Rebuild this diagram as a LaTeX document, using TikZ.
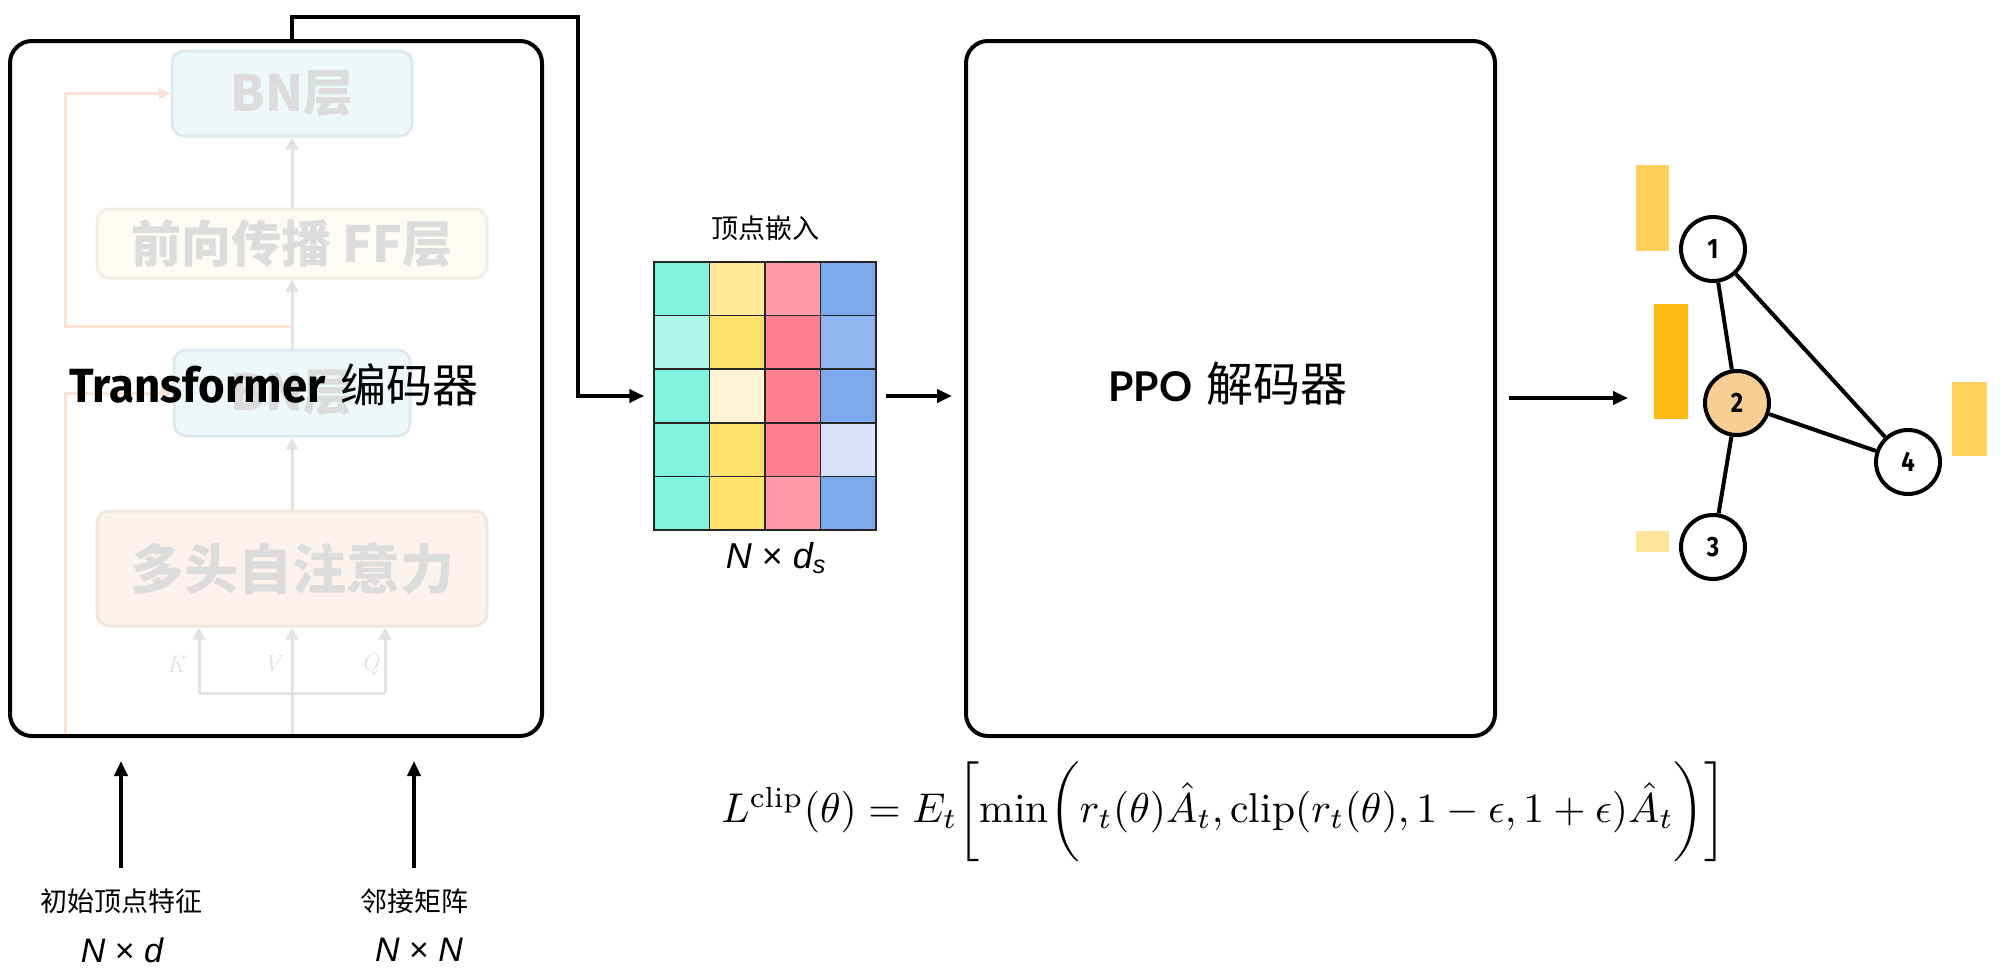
\documentclass[tikz,border=0pt]{standalone}
\usepackage{fontspec}
\usepackage{amsmath}
\usepackage{graphicx}
\usetikzlibrary{arrows.meta,calc}
\newfontfamily\song{Noto Sans CJK SC}
\newfontfamily\hei{Noto Sans CJK SC}
\newfontfamily\cond{Fira Sans}[FakeStretch=0.95]
\newfontfamily\gnum{Fira Sans}[FakeStretch=0.85]
\newfontfamily\asans{Liberation Sans}
\newfontfamily\lato{Lato}
\definecolor{bnfill}{HTML}{EEF7FA}
\definecolor{bnline}{HTML}{DDEAEF}
\definecolor{fffill}{HTML}{FEFBF4}
\definecolor{ffline}{HTML}{F2EEE6}
\definecolor{mhfill}{HTML}{FCF2ED}
\definecolor{mhline}{HTML}{F3E6DF}
\definecolor{ftext}{HTML}{DCDCDC}
\definecolor{fgray}{HTML}{E2E2E2}
\definecolor{forange}{HTML}{FBE4D5}
\definecolor{T1}{HTML}{80F3DE}
\definecolor{T2}{HTML}{AEF6E8}
\definecolor{Y1}{HTML}{FFE898}
\definecolor{Y2}{HTML}{FFE16C}
\definecolor{Y3}{HTML}{FFF4D6}
\definecolor{R1}{HTML}{FF9BA6}
\definecolor{R2}{HTML}{FF808F}
\definecolor{B1}{HTML}{7CA8EC}
\definecolor{B2}{HTML}{8FB6EF}
\definecolor{B3}{HTML}{D7E4F8}
\definecolor{bar1}{HTML}{FFD15C}
\definecolor{bar2}{HTML}{FDBA13}
\definecolor{bar3}{HTML}{FFE49C}
\definecolor{bar4}{HTML}{FFD35E}
\definecolor{hot}{HTML}{F9CE95}
\begin{document}
\begin{tikzpicture}[x=1pt,y=-1pt,
  arr/.style={line width=4pt,-{Triangle[length=15pt,width=13pt]}},
  bigbox/.style={draw,line width=4pt,rounded corners=22pt,inner sep=0pt},
  fbox/.style={rounded corners=12pt,line width=3pt,inner sep=0pt,
     font=\hei\bfseries\fontsize{50}{54}\selectfont,text=ftext},
  fline/.style={draw=fgray,line width=3pt},
  farr/.style={fline,-{Triangle[length=12pt,width=12pt]}},
  oarr/.style={draw=forange,line width=3pt,-{Triangle[length=12pt,width=12pt]}},
  gnode/.style={circle,draw,line width=4pt,minimum size=64pt,inner sep=0pt,fill=white,
     font=\gnum\bfseries\fontsize{28}{28}\selectfont},
  cjklab/.style={font=\song\fontsize{27}{30}\selectfont,inner sep=0pt},
  dimlab/.style={font=\asans\itshape\fontsize{34}{38}\selectfont,inner sep=0pt},
  edge/.style={line width=4pt}]
\useasboundingbox (0,0) rectangle (2000,972);
\fill[white] (0,0) rectangle (2000,972);

% ---- faint transformer block ----
\node[fbox,draw=bnline,fill=bnfill,minimum width=240pt,minimum height=85pt] (bn1) at (292,93.5) {BN层};
\node[fbox,draw=ffline,fill=fffill,minimum width=390pt,minimum height=69pt] (ff) at (292,243.5) {前向传播 FF层};
\node[fbox,draw=bnline,fill=bnfill,minimum width=236pt,minimum height=86pt] (bn2) at (292,393) {BN层};
\node[fbox,draw=mhline,fill=mhfill,minimum width=390pt,minimum height=115pt,
      font=\hei\bfseries\fontsize{54}{58}\selectfont] (mh) at (292,568.5) {多头自注意力};
\draw[farr] (ff.north) -- (bn1.south);
\draw[farr] (bn2.north) -- (ff.south);
\draw[farr] (mh.north) -- (bn2.south);
\coordinate (kx) at (199,693);
\coordinate (vx) at (292,693);
\coordinate (qx) at (385,693);
\draw[fline] (kx) -- (qx);
\draw[farr] (kx) -- (kx |- mh.south);
\draw[farr] (vx) -- (vx |- mh.south);
\draw[farr] (qx) -- (qx |- mh.south);
\coordinate (vbot) at (292,736);
\draw[fline] (vbot) -- (vx);
\node[text=fgray,font=\itshape\fontsize{24}{26}\selectfont] (klab) at (176,664) {K};
\node[text=fgray,font=\itshape\fontsize{24}{26}\selectfont] (vlab) at (272,664) {V};
\node[text=fgray,font=\itshape\fontsize{24}{26}\selectfont] (qlab) at (370,664) {Q};
\coordinate (res1) at (292,326);
\draw[oarr] (res1) -- ++(-227,0) |- (bn1.west);
\coordinate (res2) at (65,736);
\draw[oarr] (res2) |- (bn2.west);

% ---- encoder box ----
\node[bigbox,minimum width=532pt,minimum height=695pt] (enc) at (276,388.5) {};
\node (enctext) at (274,385) {{\cond\bfseries\fontsize{48}{52}\selectfont Transformer}\hspace{15pt}{\song\fontsize{46}{50}\selectfont 编码器}};

% ---- embedding matrix ----
\foreach \r/\ca/\cb/\cc/\cd in {0/T1/Y1/R1/B1,1/T2/Y2/R2/B2,2/T1/Y3/R2/B1,3/T1/Y2/R2/B3,4/T1/Y2/R1/B1}{
  \fill[\ca] (654,{262+53.6*\r}) rectangle ++(55.5,53.6);
  \fill[\cb] (709.5,{262+53.6*\r}) rectangle ++(55.5,53.6);
  \fill[\cc] (765,{262+53.6*\r}) rectangle ++(55.5,53.6);
  \fill[\cd] (820.5,{262+53.6*\r}) rectangle ++(55.5,53.6);
}
\foreach \i in {1,2,3} \draw[line width=1.5pt,black!85] ({654+55.5*\i},262) -- ++(0,268);
\foreach \i in {1,2,3,4} \draw[line width=1.5pt,black!85] (654,{262+53.6*\i}) -- ++(222,0);
\node[draw=black!85,line width=1.5pt,minimum width=222pt,minimum height=268pt,inner sep=0pt] (mat) at (765,396) {};
\node[cjklab] (embl) at (765,228) {顶点嵌入};
\node[dimlab,font=\asans\itshape\fontsize{36}{40}\selectfont] (embd) at (776,558) {N {\upshape×} d\textsubscript{s}};

% ---- PPO box ----
\node[bigbox,minimum width=529pt,minimum height=695pt] (ppo) at (1230.5,388.5) {};
\node (ppotext) at (1228,384) {{\lato\bfseries\fontsize{41}{46}\selectfont PPO}\hspace{14pt}{\song\fontsize{47}{50}\selectfont 解码器}};

% ---- connectors ----
\coordinate (encout) at (292,41);
\coordinate (topr) at (578,17);
\draw[line width=4pt,-{Triangle[length=15pt,width=13pt]},shorten >=9pt] (encout) |- (topr) |- (mat.west);
\draw[arr,shorten <=9pt,shorten >=12pt] (mat.east) -- (mat.east -| ppo.west);
\coordinate (gin) at (1628,398);
\draw[arr,shorten <=12pt] (ppo.east |- gin) -- (gin);

% ---- inputs ----
\node[cjklab] (lab1) at (121,901) {初始顶点特征};
\node[dimlab] (dim1) at (122,950) {N {\upshape×} d};
\node[cjklab] (lab2) at (414,901) {邻接矩阵};
\node[dimlab] (dim2) at (419,950) {N {\upshape×} N};
\draw[arr,shorten <=20pt,shorten >=23pt] (lab1.north) -- (lab1.north |- enc.south);
\draw[arr,shorten <=20pt,shorten >=23pt] (lab2.north) -- (lab2.north |- enc.south);

% ---- loss ----
\node (loss) at (1224,812) {\resizebox{1005pt}{!}{$L^{\mathrm{clip}}(\theta)=E_t\biggl[\min\biggl(r_t(\theta)\hat{A}_t,\mathrm{clip}(r_t(\theta),1-\epsilon,1+\epsilon)\hat{A}_t\biggr)\biggr]$}};

% ---- graph ----
\fill[bar1] (1636,165) rectangle (1669,251);
\fill[bar2] (1654,304) rectangle (1688,419);
\fill[bar3] (1636,531) rectangle (1669,552);
\fill[bar4] (1952,382) rectangle (1987,456);
\node[gnode] (n1) at (1713,249) {1};
\node[gnode,fill=hot] (n2) at (1737,403) {2};
\node[gnode] (n3) at (1713,547) {3};
\node[gnode] (n4) at (1908,462) {4};
\draw[edge] (n1) -- (n2);
\draw[edge] (n1) -- (n4);
\draw[edge] (n2) -- (n4);
\draw[edge] (n2) -- (n3);
\end{tikzpicture}
\end{document}
